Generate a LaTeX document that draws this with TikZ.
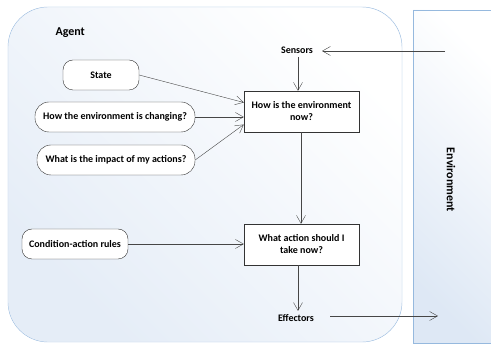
\documentclass[tikz,border=0pt]{standalone}
\usepackage{fontspec}
\setmainfont{Carlito}
\usetikzlibrary{arrows.meta}

\definecolor{frameBlue}{RGB}{150,185,222}
\definecolor{shadeBlue}{RGB}{222,232,245}
\definecolor{lineGrey}{RGB}{70,70,70}

\tikzset{
	roundbox/.style={draw=black!80,fill=white,rounded corners=10pt,minimum height=30pt,inner sep=3pt,font=\bfseries\fontsize{10}{12}\selectfont},
	squarebox/.style={draw=black!80,fill=white,minimum width=115pt,minimum height=41pt,align=center,font=\bfseries\fontsize{10}{12}\selectfont},
	plainlabel/.style={font=\bfseries\fontsize{10}{12}\selectfont},
	link/.style={draw=lineGrey,-{Straight Barb[length=8pt,width=9pt]}}
}

\begin{document}
\begin{tikzpicture}[x=1pt,y=-1pt]
\useasboundingbox (0,0) rectangle (491,344);
\clip (0,0) rectangle (491,344);
% the two frames
\shade[left color=shadeBlue,right color=white,shading angle=135] (413,10) rectangle (500,343);
\draw[frameBlue] (500,10) -- (413,10) -- (413,343) -- (500,343);
\draw[frameBlue,fill=shadeBlue!60,rounded corners=40pt] (8,7) rectangle (402,342);
\shade[left color=shadeBlue!80,right color=white,shading angle=135,rounded corners=40pt] (8.5,7.5) rectangle (401.5,341.5);
\node[plainlabel,font=\bfseries\fontsize{12}{14}\selectfont,anchor=west] (agent) at (52,33) {Agent};
\node[plainlabel,font=\bfseries\fontsize{12}{14}\selectfont,rotate=-90] (env) at (451,180) {Environment};
% inner parts
\node[roundbox,minimum width=76pt] (state) at (101,75) {State};
\node[roundbox,minimum width=160pt,rounded corners=14pt] (changing) at (115,117) {How the environment is changing?};
\node[roundbox,minimum width=158pt,rounded corners=14pt] (impact) at (116,160) {What is the impact of my actions?};
\node[roundbox,minimum width=106pt] (rules) at (75,244) {Condition-action rules};
\node[squarebox] (now) at (301.5,111.5) {How is the environment\\now?};
\node[squarebox] (action) at (301.5,244.5) {What action should I\\take now?};
\node[plainlabel] (sensors) at (297,50) {Sensors};
\node[plainlabel] (effectors) at (296,318) {Effectors};
\coordinate (sensorin) at (445,51);
\coordinate (sensortip) at (322,51);
\coordinate (effectfrom) at (330,316);
\coordinate (effectout) at (438,316);
% connectors
\draw[link] (sensorin) -- (sensortip);
\draw[link] (sensors.south -| 298,0) -- (now.north -| 298,0);
\draw[link] (state.east) -- ([yshift=9pt]now.west);
\draw[link] (changing.east) -- (now.west |- changing.east);
\draw[link] (impact.east) -- ([yshift=-13pt]now.west);
\draw[link] (now.south -| 301,0) -- (action.north -| 301,0);
\draw[link] (rules.east) -- (action.west |- rules.east);
\draw[link] (action.south -| 298,0) -- (effectors.north -| 298,0);
\draw[link] (effectfrom) -- (effectout);
\end{tikzpicture}
\end{document}
